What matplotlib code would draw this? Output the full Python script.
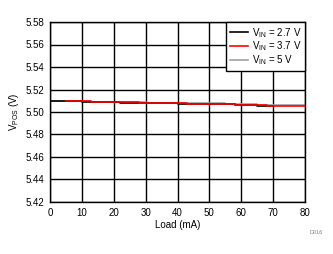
import matplotlib
matplotlib.use("Agg")
import matplotlib.pyplot as plt

plt.rcParams['font.family'] = ['Liberation Sans', 'DejaVu Sans']

# Data (step-like measured curves)
x_27 = [0, 10, 10, 13, 13, 22, 22, 40, 40, 58, 58, 65, 65, 70]
y_27 = [5.5097, 5.5097, 5.5093, 5.5093, 5.5090, 5.5090, 5.5079, 5.5079, 5.5069, 5.5069, 5.5060, 5.5060, 5.5051, 5.5051]
x_37 = [5, 13, 13, 28, 28, 43, 43, 58, 58, 68, 68, 80]
y_37 = [5.5094, 5.5094, 5.5086, 5.5086, 5.5076, 5.5076, 5.5070, 5.5070, 5.5063, 5.5063, 5.5054, 5.5054]
x_5 = [0, 13, 13, 20, 20, 30, 30, 48, 48, 55, 55, 65, 65, 72, 72, 80]
y_5 = [5.5102, 5.5102, 5.5090, 5.5090, 5.5087, 5.5087, 5.5083, 5.5083, 5.5077, 5.5077, 5.5068, 5.5068, 5.5065, 5.5065, 5.5060, 5.5060]

x_ticks = [0, 10, 20, 30, 40, 50, 60, 70, 80]
y_ticks = [5.42, 5.44, 5.46, 5.48, 5.50, 5.52, 5.54, 5.56, 5.58]

fig = plt.figure(figsize=(3.33, 2.54), dpi=100)
ax = fig.add_axes([50/333, 1 - 202/254, 255/333, 180/254])

ax.plot(x_27, y_27, color='black', lw=1.2, label='V$_{\\mathregular{IN}}$ = 2.7 V', zorder=3)
ax.plot(x_37, y_37, color='#ff0000', lw=1.2, label='V$_{\\mathregular{IN}}$ = 3.7 V', zorder=4)
ax.plot(x_5, y_5, color='#a0a0a0', lw=1.2, label='V$_{\\mathregular{IN}}$ = 5 V', zorder=2)

ax.set_xlim(0, 80)
ax.set_ylim(5.42, 5.58)
ax.set_xticks(x_ticks)
ax.set_yticks(y_ticks)
ax.set_yticklabels([f'{v:.2f}' for v in y_ticks])
ax.grid(True, color='black', lw=1.0)
ax.tick_params(length=0, labelsize=7, pad=4)
for s in ax.spines.values():
    s.set_color('black')
    s.set_linewidth(1.0)

ax.set_xlabel('Load (mA)', fontsize=7, labelpad=2)
ax.set_ylabel('V$_{\\mathregular{POS}}$ (V)', fontsize=7, labelpad=3)

leg = ax.legend(loc='upper right', fontsize=7, frameon=True, fancybox=False,
                borderaxespad=0, handlelength=1.8, labelspacing=0.0,
                borderpad=0.4, handletextpad=0.4)
leg.get_frame().set_edgecolor('black')
leg.get_frame().set_linewidth(1.0)
leg.get_frame().set_alpha(1)

fig.text(316/333, 1 - 232/254, 'D016', fontsize=4, color='#808080', ha='center', va='center')

fig.savefig('out.png', dpi=100)
